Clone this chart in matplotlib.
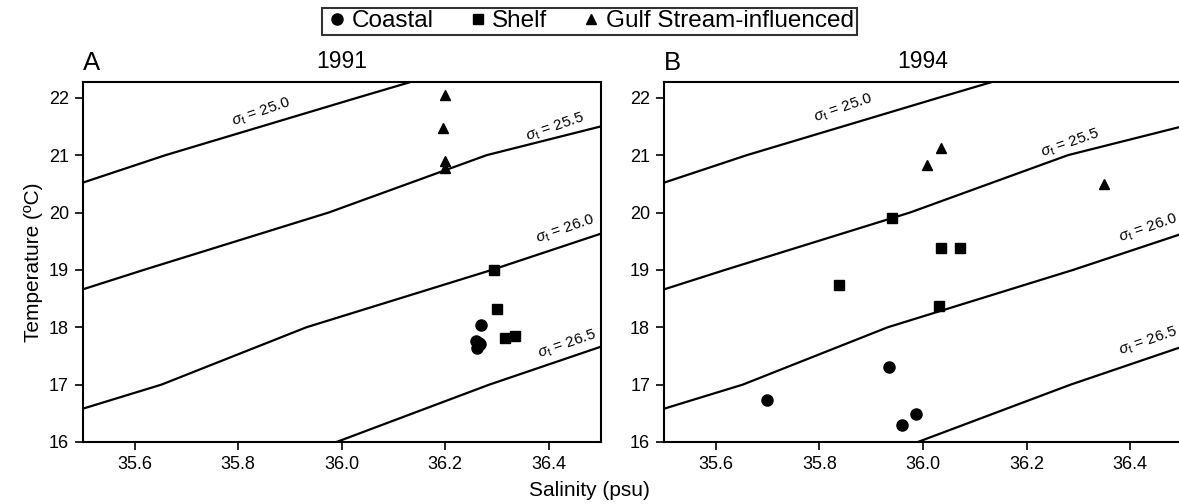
"""
T-S diagrams, 1991 vs 1994, with sigma-t isopycnals
"""

import numpy as np
import matplotlib
matplotlib.use("Agg")
import matplotlib.pyplot as plt
from matplotlib.lines import Line2D

plt.rcParams['font.family'] = ['Liberation Sans', 'DejaVu Sans']
plt.rcParams['mathtext.fontset'] = 'custom'
plt.rcParams['mathtext.rm'] = 'Liberation Sans'
plt.rcParams['mathtext.it'] = 'Liberation Sans:italic'

# ── DATA ──────────────────────────────────────────────────────────────────────

# 1991 (panel A)
coastal_91_s = [36.269, 36.259, 36.267, 36.262, 36.265]
coastal_91_t = [18.04, 17.76, 17.70, 17.63, 17.72]
shelf_91_s = [36.294, 36.299, 36.316, 36.335]
shelf_91_t = [18.99, 18.32, 17.81, 17.85]
gulf_91_s = [36.200, 36.195, 36.200, 36.200]
gulf_91_t = [22.05, 21.48, 20.90, 20.77]

# 1994 (panel B)
coastal_94_s = [35.699, 35.934, 35.986, 35.959]
coastal_94_t = [16.74, 17.31, 16.49, 16.30]
shelf_94_s = [35.940, 36.035, 36.071, 35.838, 36.030]
shelf_94_t = [19.90, 19.38, 19.38, 18.74, 18.37]
gulf_94_s = [36.008, 36.035, 36.349]
gulf_94_t = [20.83, 21.13, 20.50]

# isopycnal vertices (salinity, temperature)
iso_levels = ["25.0", "25.5", "26.0", "26.5"]
iso_s = [
    [35.50, 35.66, 36.03, 36.15],
    [35.50, 35.618, 35.975, 36.28, 36.50],
    [35.50, 35.652, 35.932, 36.29, 36.50],
    [35.99, 36.285, 36.50],
]
iso_t = [
    [20.52, 21.00, 22.00, 22.32],
    [18.66, 19.00, 20.00, 21.00, 21.50],
    [16.58, 17.00, 18.00, 19.00, 19.63],
    [16.00, 17.00, 17.66],
]

# label centres for each isopycnal, per panel
label_91 = [(35.844, 21.75), (36.412, 21.49), (36.431, 19.70), (36.435, 17.71)]
label_94 = [(35.846, 21.82), (36.284, 21.21), (36.434, 19.73), (36.434, 17.75)]

# ── PLOT ──────────────────────────────────────────────────────────────────────

W, H = 1179, 504
fig = plt.figure(figsize=(W / 100, H / 100), dpi=100)

ax_a = fig.add_axes([82.7 / W, 62 / H, 518 / W, 360.3 / H])
ax_b = fig.add_axes([664 / W, 62 / H, 518 / W, 360.3 / H])

panels = [
    (ax_a, "A", "1991", coastal_91_s, coastal_91_t, shelf_91_s, shelf_91_t,
     gulf_91_s, gulf_91_t, label_91),
    (ax_b, "B", "1994", coastal_94_s, coastal_94_t, shelf_94_s, shelf_94_t,
     gulf_94_s, gulf_94_t, label_94),
]

for ax, letter, year, cs, ct, ss, st, gs, gt, labels in panels:
    for s, t in zip(iso_s, iso_t):
        ax.plot(s, t, color='black', linewidth=1.6, solid_capstyle='butt')

    for lev, (lx, ly) in zip(iso_levels, labels):
        ax.text(lx, ly, r'$\sigma_{\rm t}$ = ' + lev, fontsize=11,
                rotation=19, ha='center', va='center', rotation_mode='anchor')

    ax.plot(cs, ct, 'o', color='black', markersize=8, linestyle='none')
    ax.plot(ss, st, 's', color='black', markersize=7, linestyle='none')
    ax.plot(gs, gt, '^', color='black', markersize=7.5, linestyle='none')

    ax.set_xlim(35.5, 36.5)
    ax.set_ylim(16, 22.28)
    ax.set_xticks([35.6, 35.8, 36.0, 36.2, 36.4])
    ax.set_xticklabels(["35.6", "35.8", "36.0", "36.2", "36.4"])
    ax.set_yticks([16, 17, 18, 19, 20, 21, 22])
    ax.tick_params(labelsize=13, length=6, width=1.2, direction='out', pad=4)
    for sp in ax.spines.values():
        sp.set_linewidth(1.5)

    ax.text(0.0, 1.0325, letter, transform=ax.transAxes, fontsize=18.5,
            ha='left', va='baseline')
    ax.text(0.5, 1.038, year, transform=ax.transAxes, fontsize=16.5,
            ha='center', va='baseline')

ax_a.set_ylabel("Temperature (ºC)", fontsize=15, labelpad=4)
fig.text(0.5, 0.027, "Salinity (psu)", ha='center', va='center', fontsize=15)

handles = [
    Line2D([], [], marker='o', color='black', linestyle='none', markersize=8),
    Line2D([], [], marker='s', color='black', linestyle='none', markersize=7),
    Line2D([], [], marker='^', color='black', linestyle='none', markersize=7.5),
]
leg = fig.legend(handles, ["Coastal", "Shelf", "Gulf Stream-influenced"],
                 loc='upper center', bbox_to_anchor=(0.5, 0.985), ncol=3,
                 fontsize=17.5, frameon=True, fancybox=False, edgecolor='black',
                 handletextpad=0.1, columnspacing=1.3, borderpad=0.12,
                 handlelength=1.0, borderaxespad=0.0)
leg.get_frame().set_linewidth(1.5)

fig.savefig("out.png", dpi=100)
